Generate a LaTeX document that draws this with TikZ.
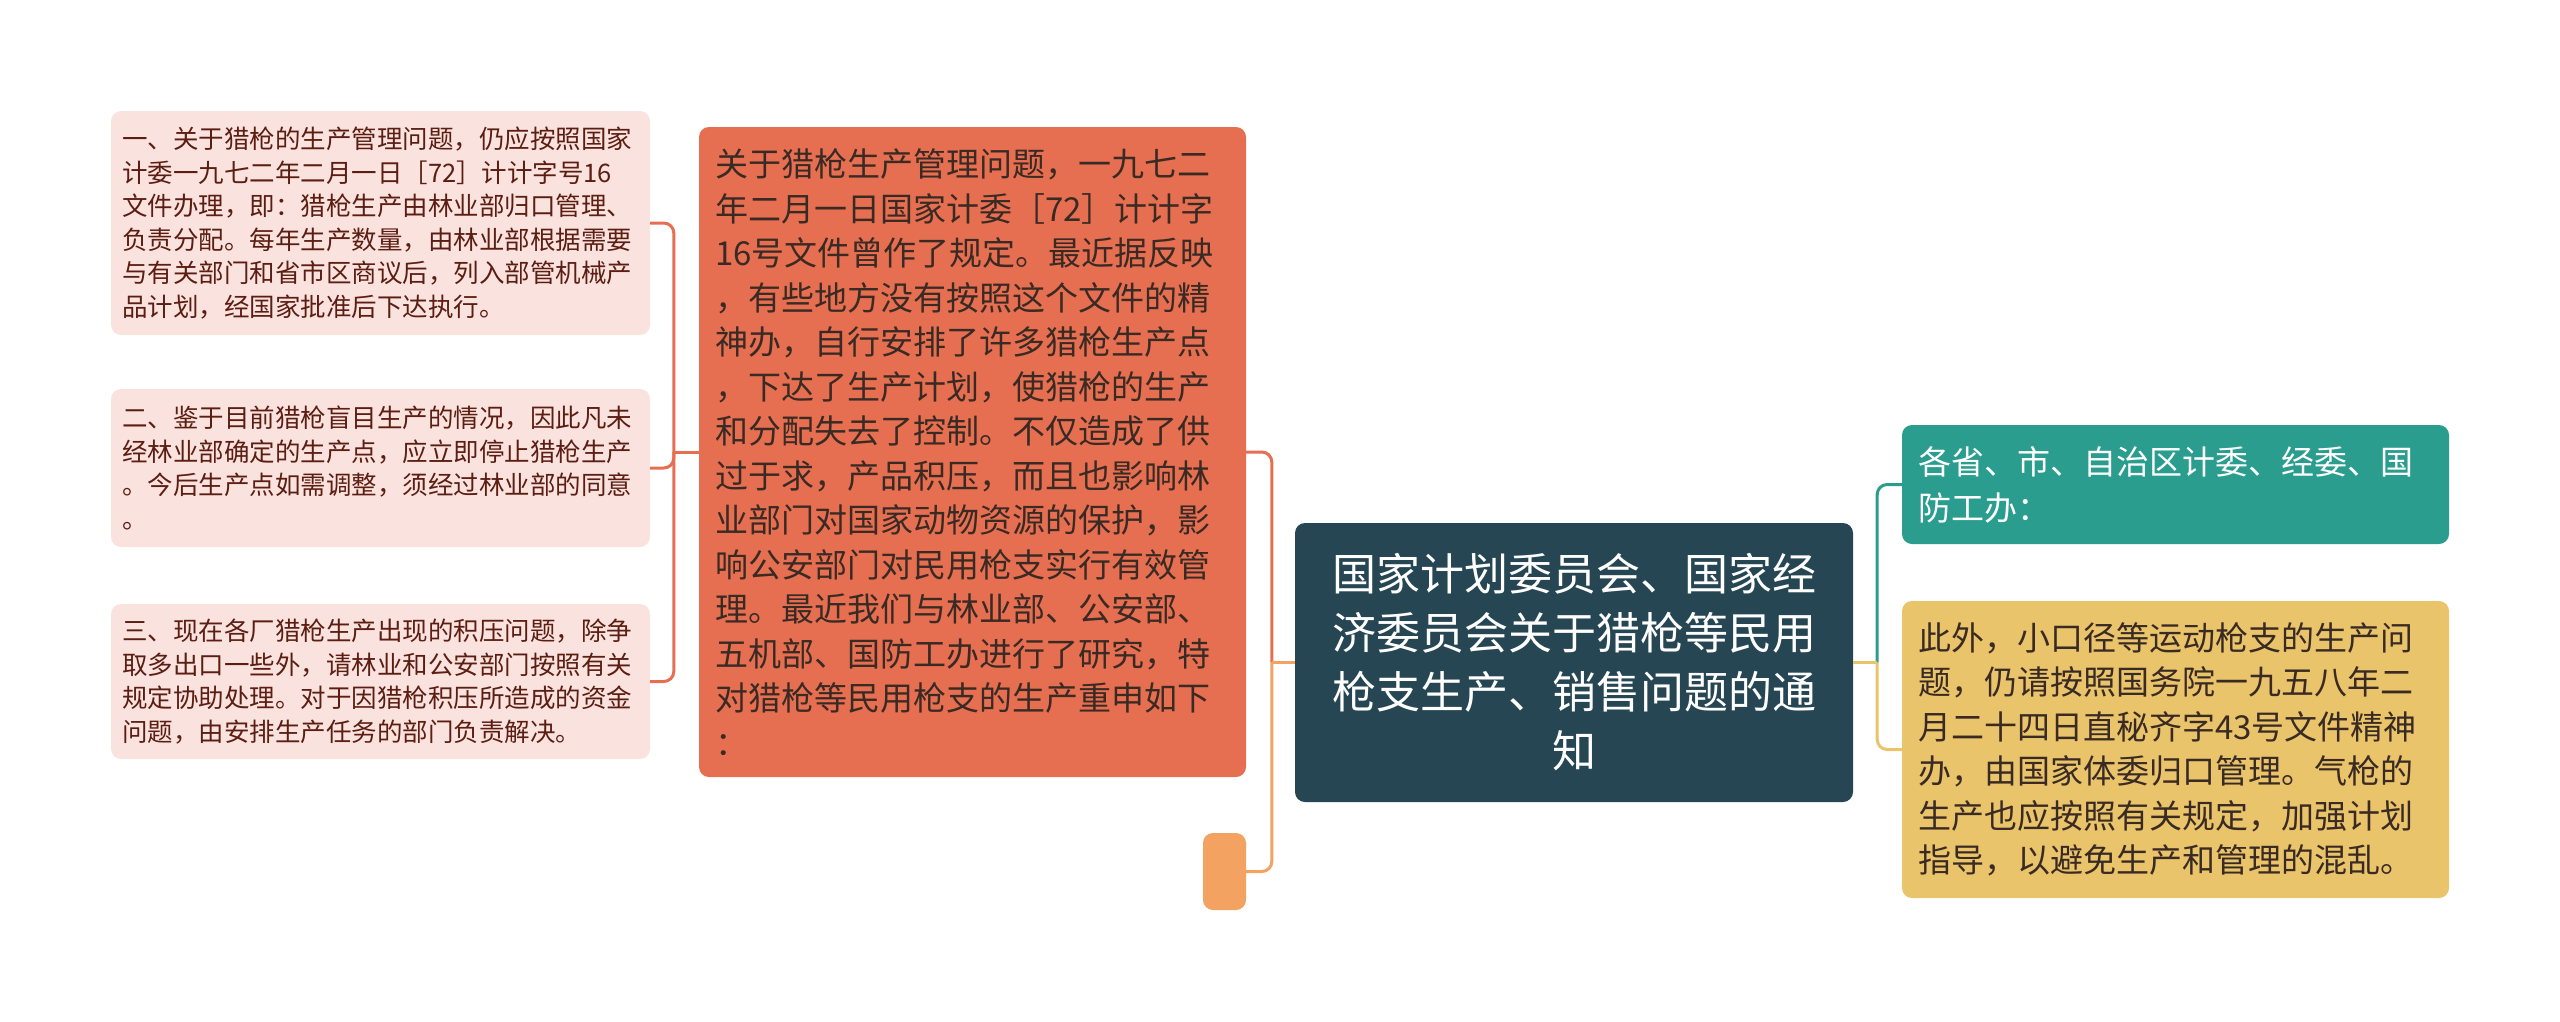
\documentclass[tikz,border=0pt]{standalone}
\usepackage{fontspec}
\setmainfont{Noto Sans CJK SC}
\usepackage{xcolor}
\usetikzlibrary{calc, positioning}
\definecolor{rootblue}{HTML}{264653}
\definecolor{mapteal}{HTML}{2A9D8F}
\definecolor{mapyellow}{HTML}{E9C46A}
\definecolor{maplight}{HTML}{F4A261}
\definecolor{maporange}{HTML}{E76F51}
\definecolor{mappink}{HTML}{FAE3DE}
\definecolor{pinktext}{HTML}{5C1E12}
\definecolor{darktext}{HTML}{3A2A24}

\begin{document}
\begin{tikzpicture}[x=1pt, y=-1pt,
    box/.style={rounded corners=10pt, inner ysep=0pt, align=left},
    leaf/.style={box, fill=mappink, text=pinktext, inner xsep=11pt, text width=517pt, minimum width=539pt, font=\fontsize{25.5}{33.5}\selectfont},
    conn/.style={line width=3pt, rounded corners=10pt}]
    \useasboundingbox (0,0) rectangle (2560,1021);

    \node[box, fill=rootblue, text=white, align=center, text width=530pt, minimum width=558pt, minimum height=279pt, font=\fontsize{44}{59}\selectfont] (root) at (1574,662.5) {国家计划委员会、国家经\\济委员会关于猎枪等民用\\枪支生产、销售问题的通\\知};

    \node[box, fill=maporange, text=darktext, inner xsep=16pt, text width=515pt, minimum height=650pt, font=\fontsize{33}{44.5}\selectfont] (intro) at (972.5,452) {关于猎枪生产管理问题，一九七二\\年二月一日国家计委［72］计计字\\16号文件曾作了规定。最近据反映\\，有些地方没有按照这个文件的精\\神办，自行安排了许多猎枪生产点\\，下达了生产计划，使猎枪的生产\\和分配失去了控制。不仅造成了供\\过于求，产品积压，而且也影响林\\业部门对国家动物资源的保护，影\\响公安部门对民用枪支实行有效管\\理。最近我们与林业部、公安部、\\五机部、国防工办进行了研究，特\\对猎枪等民用枪支的生产重申如下\\：};
    \node[box, fill=maplight, minimum width=43pt, minimum height=77pt] (blank) at (1224.5,871.5) {};

    \node[leaf, minimum height=224pt] (one) at (380.5,223) {一、关于猎枪的生产管理问题，仍应按照国家\\计委一九七二年二月一日［72］计计字号16\\文件办理，即：猎枪生产由林业部归口管理、\\负责分配。每年生产数量，由林业部根据需要\\与有关部门和省市区商议后，列入部管机械产\\品计划，经国家批准后下达执行。};
    \node[leaf, minimum height=158pt] (two) at (380.5,468) {二、鉴于目前猎枪盲目生产的情况，因此凡未\\经林业部确定的生产点，应立即停止猎枪生产\\。今后生产点如需调整，须经过林业部的同意\\。};
    \node[leaf, minimum height=155pt] (three) at (380.5,681.5) {三、现在各厂猎枪生产出现的积压问题，除争\\取多出口一些外，请林业和公安部门按照有关\\规定协助处理。对于因猎枪积压所造成的资金\\问题，由安排生产任务的部门负责解决。};

    \node[box, fill=mapteal, text=white, inner xsep=16pt, text width=515pt, minimum height=119pt, font=\fontsize{33}{46}\selectfont] (offices) at (2175.5,484.5) {各省、市、自治区计委、经委、国\\防工办：};
    \node[box, fill=mapyellow, text=darktext, inner xsep=16pt, text width=515pt, minimum height=297pt, font=\fontsize{33}{44.5}\selectfont] (sports) at (2175.5,749.5) {此外，小口径等运动枪支的生产问\\题，仍请按照国务院一九五八年二\\月二十四日直秘齐字43号文件精神\\办，由国家体委归口管理。气枪的\\生产也应按照有关规定，加强计划\\指导，以避免生产和管理的混乱。};

    \coordinate (jmid) at ($(root.west)+(-23,0)$);
    \coordinate (jright) at ($(root.east)+(24,0)$);
    \coordinate (jleft) at ($(intro.west)+(-25,0)$);

    \draw[conn, maporange] (jmid) |- (intro.east);
    \draw[conn, maplight] (jmid) |- (blank.east);
    \draw[conn, maplight] (root.west) -- (jmid);
    \draw[conn, mapteal] (jright) |- (offices.west);
    \draw[conn, mapyellow] (jright) |- (sports.west);
    \draw[conn, mapyellow] (root.east) -- (jright);
    \draw[conn, maporange] (intro.west) -- (jleft);
    \foreach \leafnode in {one, two, three}
        \draw[conn, maporange] (jleft) |- (\leafnode.east);
\end{tikzpicture}
\end{document}
